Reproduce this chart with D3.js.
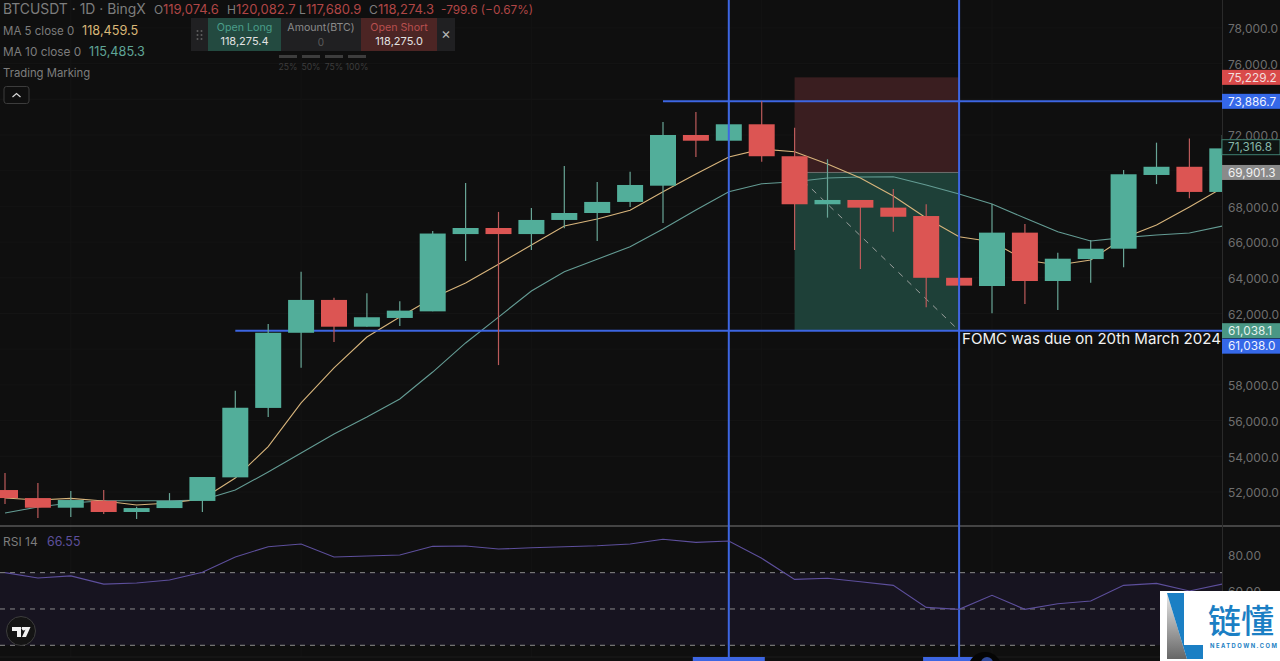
<!DOCTYPE html>
<html>
<head>
<meta charset="utf-8">
<title>BTCUSDT 1D</title>
<script src="https://cdn.jsdelivr.net/npm/d3@7"></script>
<style>
    html, body { margin: 0; padding: 0; background: #0f0f0f; overflow: hidden; }
    svg { display: block; font-family: Inter, "Noto Sans", sans-serif; }
    .axis path, .axis line { display: none; }
    .axis text { fill: #6e6e6e; font-size: 12px; font-family: Inter, sans-serif; }
</style>
</head>
<body>
<svg id="chart" width="1280" height="661"></svg>
<script>
"use strict";

var opens = [52110, 51660, 51120, 51510, 50880, 51100, 51500, 52820, 56710, 60920, 62760, 61260, 61750, 62120, 66450, 66790, 66450, 67240, 67630, 68250, 69160, 72000, 71680, 72600, 70810, 68120, 68360, 67930, 67460, 64000, 63540, 66530, 63820, 65050, 65630, 69760, 70220, 68810];
var highs = [53060, 52500, 52060, 52110, 51180, 51940, 52840, 57670, 61410, 64340, 62880, 63130, 62680, 66620, 69310, 67690, 67910, 70260, 69370, 69940, 72730, 73290, 73860, 73890, 72410, 70640, 68360, 68970, 68120, 65740, 68130, 67010, 65410, 66120, 70040, 71570, 71810, 72000];
var lows = [51330, 50540, 50600, 50770, 50490, 51100, 50880, 52820, 56200, 58960, 60400, 61260, 61300, 62120, 64940, 59110, 65560, 66770, 66060, 67970, 67070, 70770, 71160, 70500, 65560, 67370, 64490, 66580, 62350, 61080, 62010, 62530, 62200, 63720, 64590, 69250, 68450, 68810];
var closes = [51660, 51120, 51550, 50880, 51100, 51500, 52840, 56720, 60920, 62760, 61260, 61790, 62160, 66480, 66790, 66450, 67240, 67630, 68250, 69200, 72000, 71680, 72600, 70810, 68120, 68360, 67930, 67420, 64000, 63560, 66530, 63820, 65070, 65630, 69800, 70220, 68810, 71250];

var ma5 = [51660, 51550, 51640, 51500, 51270, 51380, 51610, 52780, 54540, 56990, 58950, 60680, 61800, 62870, 63710, 64760, 65840, 66900, 67290, 67780, 68820, 69810, 70770, 71210, 71060, 70370, 69590, 68580, 67350, 66300, 66020, 65000, 64720, 65000, 66230, 66960, 67970, 69030];
var ma10 = [50820, 51160, 51380, 51510, 51510, 51510, 51550, 52110, 53120, 54180, 55250, 56200, 57210, 58720, 60350, 61800, 63260, 64340, 65040, 65740, 66730, 67800, 68820, 69270, 69380, 69590, 69650, 69660, 69200, 68690, 68130, 67350, 66580, 66060, 66250, 66400, 66510, 66900];
var rsi = [70.0, 67.1, 68.2, 63.7, 64.3, 66.0, 70.2, 78.6, 84.3, 85.8, 78.6, 79.2, 79.7, 84.5, 84.7, 83.0, 83.7, 84.3, 84.8, 85.8, 88.4, 86.7, 87.4, 77.9, 66.3, 66.9, 65.0, 63.0, 50.9, 49.8, 57.5, 49.8, 52.9, 54.4, 63.0, 64.1, 59.9, 63.7];

// 60,000 / 70,000 / 74,000 sit behind the price tags on the original
var priceTicks = [52000, 54000, 56000, 58000, 62000, 64000, 66000, 68000, 72000, 76000, 78000];
var rsiTicks = [60, 80];
var rsiLevels = [70, 50, 30];

var stopPrice = 75229.2, entryPrice = 69901.3, targetPrice = 61038.1;
var upperLevel = 73886.7, lowerLevel = 61038.0, lastPrice = 71316.8;
var eventBars = [22, 29], positionStart = 24;

var green = "#52ae9a", red = "#dc5553", blue = "#3d66e2";

var svg = d3.select("#chart");
var fmt1 = d3.format(",.1f");

var xScale = d3.scaleLinear().domain([0, 37]).range([5, 1222.3]);
var yScale = d3.scaleLinear().domain([52000, 78000]).range([492, 27.9]);
var rsiScale = d3.scaleLinear().domain([30, 80]).range([645.3, 554.5]);

var paneRight = 1222, paneBottom = 526, rsiBottom = 657;

var defs = svg.append("defs");
defs.append("clipPath").attr("id", "pane").append("rect")
    .attr("width", paneRight).attr("height", paneBottom);
defs.append("clipPath").attr("id", "rsiPane").append("rect")
    .attr("y", paneBottom).attr("width", paneRight).attr("height", rsiBottom - paneBottom);
var grad = defs.append("linearGradient").attr("id", "logoGrey")
    .attr("x1", 0).attr("y1", 0).attr("x2", 0).attr("y2", 1);
grad.append("stop").attr("offset", "0%").attr("stop-color", "#e8e8e8");
grad.append("stop").attr("offset", "100%").attr("stop-color", "#666666");

// background grid
svg.append("g").selectAll("line").data(yScale.ticks(13)).enter().append("line")
    .attr("x1", 0).attr("x2", paneRight)
    .attr("y1", d => yScale(d)).attr("y2", d => yScale(d))
    .attr("stroke", "#141414");
svg.append("g").selectAll("line").data(d3.range(2, 37, 7)).enter().append("line")
    .attr("x1", d => xScale(d)).attr("x2", d => xScale(d))
    .attr("y1", 0).attr("y2", rsiBottom)
    .attr("stroke", "#141414");

// rsi band
svg.append("rect")
    .attr("x", 0).attr("width", paneRight)
    .attr("y", rsiScale(70)).attr("height", rsiScale(30) - rsiScale(70))
    .attr("fill", "#171420");

// pane separators and price axis border
svg.append("line").attr("x1", 0).attr("x2", 1280).attr("y1", paneBottom).attr("y2", paneBottom)
    .attr("stroke", "#7a7a7a");
svg.append("line").attr("x1", 0).attr("x2", 1280).attr("y1", rsiBottom).attr("y2", rsiBottom)
    .attr("stroke", "#1d1d1d");
svg.append("line").attr("x1", paneRight + .5).attr("x2", paneRight + .5).attr("y1", 0).attr("y2", 661)
    .attr("stroke", "#2a2a2a");

var main = svg.append("g").attr("clip-path", "url(#pane)");

// long / short position boxes
main.append("rect")
    .attr("x", xScale(positionStart)).attr("width", xScale(eventBars[1]) - xScale(positionStart))
    .attr("y", yScale(stopPrice)).attr("height", yScale(entryPrice) - yScale(stopPrice))
    .attr("fill", "#3a1e20");
main.append("rect")
    .attr("x", xScale(positionStart)).attr("width", xScale(eventBars[1]) - xScale(positionStart))
    .attr("y", yScale(entryPrice)).attr("height", yScale(targetPrice) - yScale(entryPrice))
    .attr("fill", "#1e4038");
main.append("line")
    .attr("x1", xScale(positionStart)).attr("x2", xScale(eventBars[1]))
    .attr("y1", yScale(entryPrice)).attr("y2", yScale(entryPrice))
    .attr("stroke", "#6e6e6e").attr("stroke-width", 1);
main.append("line")
    .attr("x1", xScale(positionStart)).attr("x2", xScale(eventBars[1]))
    .attr("y1", yScale(entryPrice)).attr("y2", yScale(targetPrice))
    .attr("stroke", "#9a9f9d").attr("stroke-width", 1).attr("stroke-dasharray", "6 6");

// rsi levels
svg.append("g").selectAll("line").data(rsiLevels).enter().append("line")
    .attr("x1", 0).attr("x2", paneRight)
    .attr("y1", d => rsiScale(d)).attr("y2", d => rsiScale(d))
    .attr("stroke", "#8a8a8a").attr("stroke-dasharray", "5 5");

// moving averages
var priceLine = d3.line().x((d, i) => xScale(i)).y(d => yScale(d));
main.append("path").attr("d", priceLine(ma10)).attr("fill", "none")
    .attr("stroke", "#649c94").attr("stroke-width", 1.1);
main.append("path").attr("d", priceLine(ma5)).attr("fill", "none")
    .attr("stroke", "#d8b57c").attr("stroke-width", 1.1);

// event lines
svg.selectAll(".event").data(eventBars).enter().append("line")
    .attr("class", "event")
    .attr("x1", d => xScale(d)).attr("x2", d => xScale(d))
    .attr("y1", 0).attr("y2", rsiBottom)
    .attr("stroke", blue).attr("stroke-width", 2);
main.append("line")
    .attr("x1", xScale(20)).attr("x2", paneRight)
    .attr("y1", yScale(upperLevel)).attr("y2", yScale(upperLevel))
    .attr("stroke", blue).attr("stroke-width", 2);
main.append("line")
    .attr("x1", xScale(7)).attr("x2", paneRight)
    .attr("y1", yScale(lowerLevel)).attr("y2", yScale(lowerLevel))
    .attr("stroke", blue).attr("stroke-width", 2);

// candles
var candleWidth = 26;
var candles = main.selectAll(".candle").data(closes).enter().append("g").attr("class", "candle");
candles.append("line")
    .attr("x1", (d, i) => xScale(i)).attr("x2", (d, i) => xScale(i))
    .attr("y1", (d, i) => yScale(highs[i])).attr("y2", (d, i) => yScale(lows[i]))
    .attr("stroke", (d, i) => d >= opens[i] ? "#68a596" : "#bb5a5a").attr("stroke-width", 1.2);
candles.append("rect")
    .attr("x", (d, i) => xScale(i) - candleWidth / 2)
    .attr("width", candleWidth)
    .attr("y", (d, i) => yScale(Math.max(d, opens[i])))
    .attr("height", (d, i) => Math.abs(yScale(d) - yScale(opens[i])))
    .attr("fill", (d, i) => d >= opens[i] ? green : red);

// rsi line
var rsiLine = d3.line().x((d, i) => xScale(i)).y(d => rsiScale(d));
svg.append("g").attr("clip-path", "url(#rsiPane)").append("path")
    .attr("d", rsiLine(rsi)).attr("fill", "none")
    .attr("stroke", "#5d4f9c").attr("stroke-width", 1.1);

// axes
svg.append("g").attr("class", "axis")
    .attr("transform", "translate(1228,1)")
    .call(d3.axisRight(yScale).tickValues(priceTicks).tickFormat(fmt1).tickSize(0).tickPadding(0));
svg.append("g").attr("class", "axis")
    .attr("transform", "translate(1228,1)")
    .call(d3.axisRight(rsiScale).tickValues(rsiTicks).tickFormat(d3.format(".2f")).tickSize(0).tickPadding(0));

// price tags
function priceTag(value, cy, fill, textFill, stroke) {
    svg.append("rect")
        .attr("x", 1222).attr("y", cy - 7.5).attr("width", 58).attr("height", 15)
        .attr("fill", fill).attr("stroke", stroke || "none");
    svg.append("text")
        .attr("x", 1228).attr("y", cy + 4.3)
        .attr("font-size", 11.8).attr("fill", textFill)
        .text(fmt1(value));
}
priceTag(stopPrice, yScale(stopPrice), "#d94a4a", "#f2dede");
priceTag(upperLevel, yScale(upperLevel), "#3568e8", "#eef2ff");
priceTag(lastPrice, yScale(lastPrice), "#0f1513", "#86b5a8", "#3f7f70");
priceTag(entryPrice, yScale(entryPrice), "#8a8a8a", "#f2f2f2");
priceTag(targetPrice, yScale(targetPrice), "#4a9784", "#e4f2ee");
priceTag(lowerLevel, yScale(lowerLevel) + 15.5, "#3568e8", "#eef2ff");

// annotation
svg.append("text")
    .attr("x", 962).attr("y", yScale(lowerLevel) + 13)
    .attr("font-size", 15.05).attr("fill", "#f2f2f2")
    .text("FOMC was due on 20th March 2024");

// header
function label(x, y, text, fill, size, anchor) {
    return svg.append("text").attr("x", x).attr("y", y)
        .attr("font-size", size || 12).attr("fill", fill)
        .attr("text-anchor", anchor || "start").text(text);
}
var dim = "#7d7d7d", down = "#b04646";
label(3, 14, "BTCUSDT · 1D · BingX", dim, 13.9);
label(154, 13.5, "O", dim, 12);
label(163, 13.5, "119,074.6", down, 13);
label(227, 13.5, "H", dim, 12);
label(236, 13.5, "120,082.7", down, 13);
label(299, 13.5, "L", dim, 12);
label(306, 13.5, "117,680.9", down, 13);
label(369, 13.5, "C", dim, 12);
label(378, 13.5, "118,274.3", down, 13);
label(441, 13.5, "-799.6 (−0.67%)", down, 11.8);
label(3, 35, "MA 5 close 0", dim, 11.5);
label(82, 35, "118,459.5", "#d9b777", 12.7);
label(3, 56, "MA 10 close 0", dim, 11.8);
label(89, 56, "115,485.3", "#5fa597", 12.7);
label(3, 77, "Trading Marking", dim, 11.3);

svg.append("rect").attr("x", 4).attr("y", 86.5).attr("width", 25).attr("height", 17).attr("rx", 2.5)
    .attr("fill", "#0f0f0f").attr("stroke", "#3c3c3c");
svg.append("path").attr("d", "M12.5 97 L16.5 93.5 L20.5 97").attr("fill", "none")
    .attr("stroke", "#d8d8d8").attr("stroke-width", 1.2);

// order panel
var panel = [[191, 17, "#202022"], [208, 73, "#234a40"], [281, 80, "#202022"], [361, 76, "#4c2524"], [437, 18, "#202022"]];
svg.append("g").selectAll("rect").data(panel).enter().append("rect")
    .attr("x", d => d[0]).attr("y", 18).attr("width", d => d[1]).attr("height", 33).attr("fill", d => d[2]);
label(244.5, 31, "Open Long", "#4a9e8a", 10.7, "middle");
label(244.5, 45, "118,275.4", "#e2e2e2", 11, "middle");
label(321, 31, "Amount(BTC)", "#8a8a8a", 10.6, "middle");
label(321, 46, "0", "#5c5c5c", 10, "middle");
label(399, 31, "Open Short", "#b84f4f", 10.7, "middle");
label(399, 45, "118,275.0", "#e2e2e2", 11, "middle");
label(446, 39, "×", "#b5b5b5", 15, "middle");
svg.append("g").selectAll("circle").data(d3.cross([197.5, 201.5], [31, 35, 39])).enter().append("circle")
    .attr("cx", d => d[0]).attr("cy", d => d[1]).attr("r", 1).attr("fill", "#5f5f5f");
var pctLabels = ["25%", "50%", "75%", "100%"];
pctLabels.forEach(function (p, i) {
    svg.append("rect").attr("x", 279 + i * 23).attr("y", 55).attr("width", 18).attr("height", 3).attr("fill", "#3d3d3d");
    label(288 + i * 23, 70, p, "#3d3d3d", 8.6, "middle");
});

// rsi title
label(3, 546, "RSI 14", dim, 12);
label(47, 546, "66.55", "#5d4f9c", 12.4);

// tradingview badge
svg.append("circle").attr("cx", 21).attr("cy", 631).attr("r", 14.5)
    .attr("fill", "#141414").attr("stroke", "#3d3d3d");
svg.append("path").attr("d", "M12 627 H21 V637 H17 V631 H12 Z M22 627 H30.5 L26 637 H22 L25.5 629.5 A2 2 0 0 1 22 627 Z")
    .attr("fill", "#f2f2f2");

// bottom tags of the event lines
svg.selectAll(".eventTag").data(eventBars).enter().append("rect")
    .attr("class", "eventTag")
    .attr("x", d => xScale(d) - 36).attr("y", rsiBottom).attr("width", 72).attr("height", 4)
    .attr("fill", blue);
svg.append("circle").attr("cx", 985).attr("cy", 669).attr("r", 17).attr("fill", "#050505");
svg.append("circle").attr("cx", 987).attr("cy", 663).attr("r", 6).attr("fill", "#2f4a9c");

// watermark logo
svg.append("rect").attr("x", 1160).attr("y", 591).attr("width", 120).attr("height", 70).attr("fill", "#ffffff");
svg.append("path").attr("d", "M1167 593 L1187 659 L1167 659 Z").attr("fill", "url(#logoGrey)");
svg.append("path").attr("d", "M1167 593 H1184 V645 H1203 V659 H1187 Z").attr("fill", "#1b7fc4");
svg.append("text").attr("x", 1208).attr("y", 633).attr("font-size", 33).attr("font-weight", 500)
    .attr("font-family", "'Noto Sans CJK SC'").attr("fill", "#1b7fc4").text("链懂");
svg.append("text").attr("x", 1210).attr("y", 647.5).attr("font-size", 5.8).attr("font-weight", 700)
    .attr("letter-spacing", 1.5).attr("fill", "#1b7fc4").text("NEATDOWN.COM");
</script>
</body>
</html>
